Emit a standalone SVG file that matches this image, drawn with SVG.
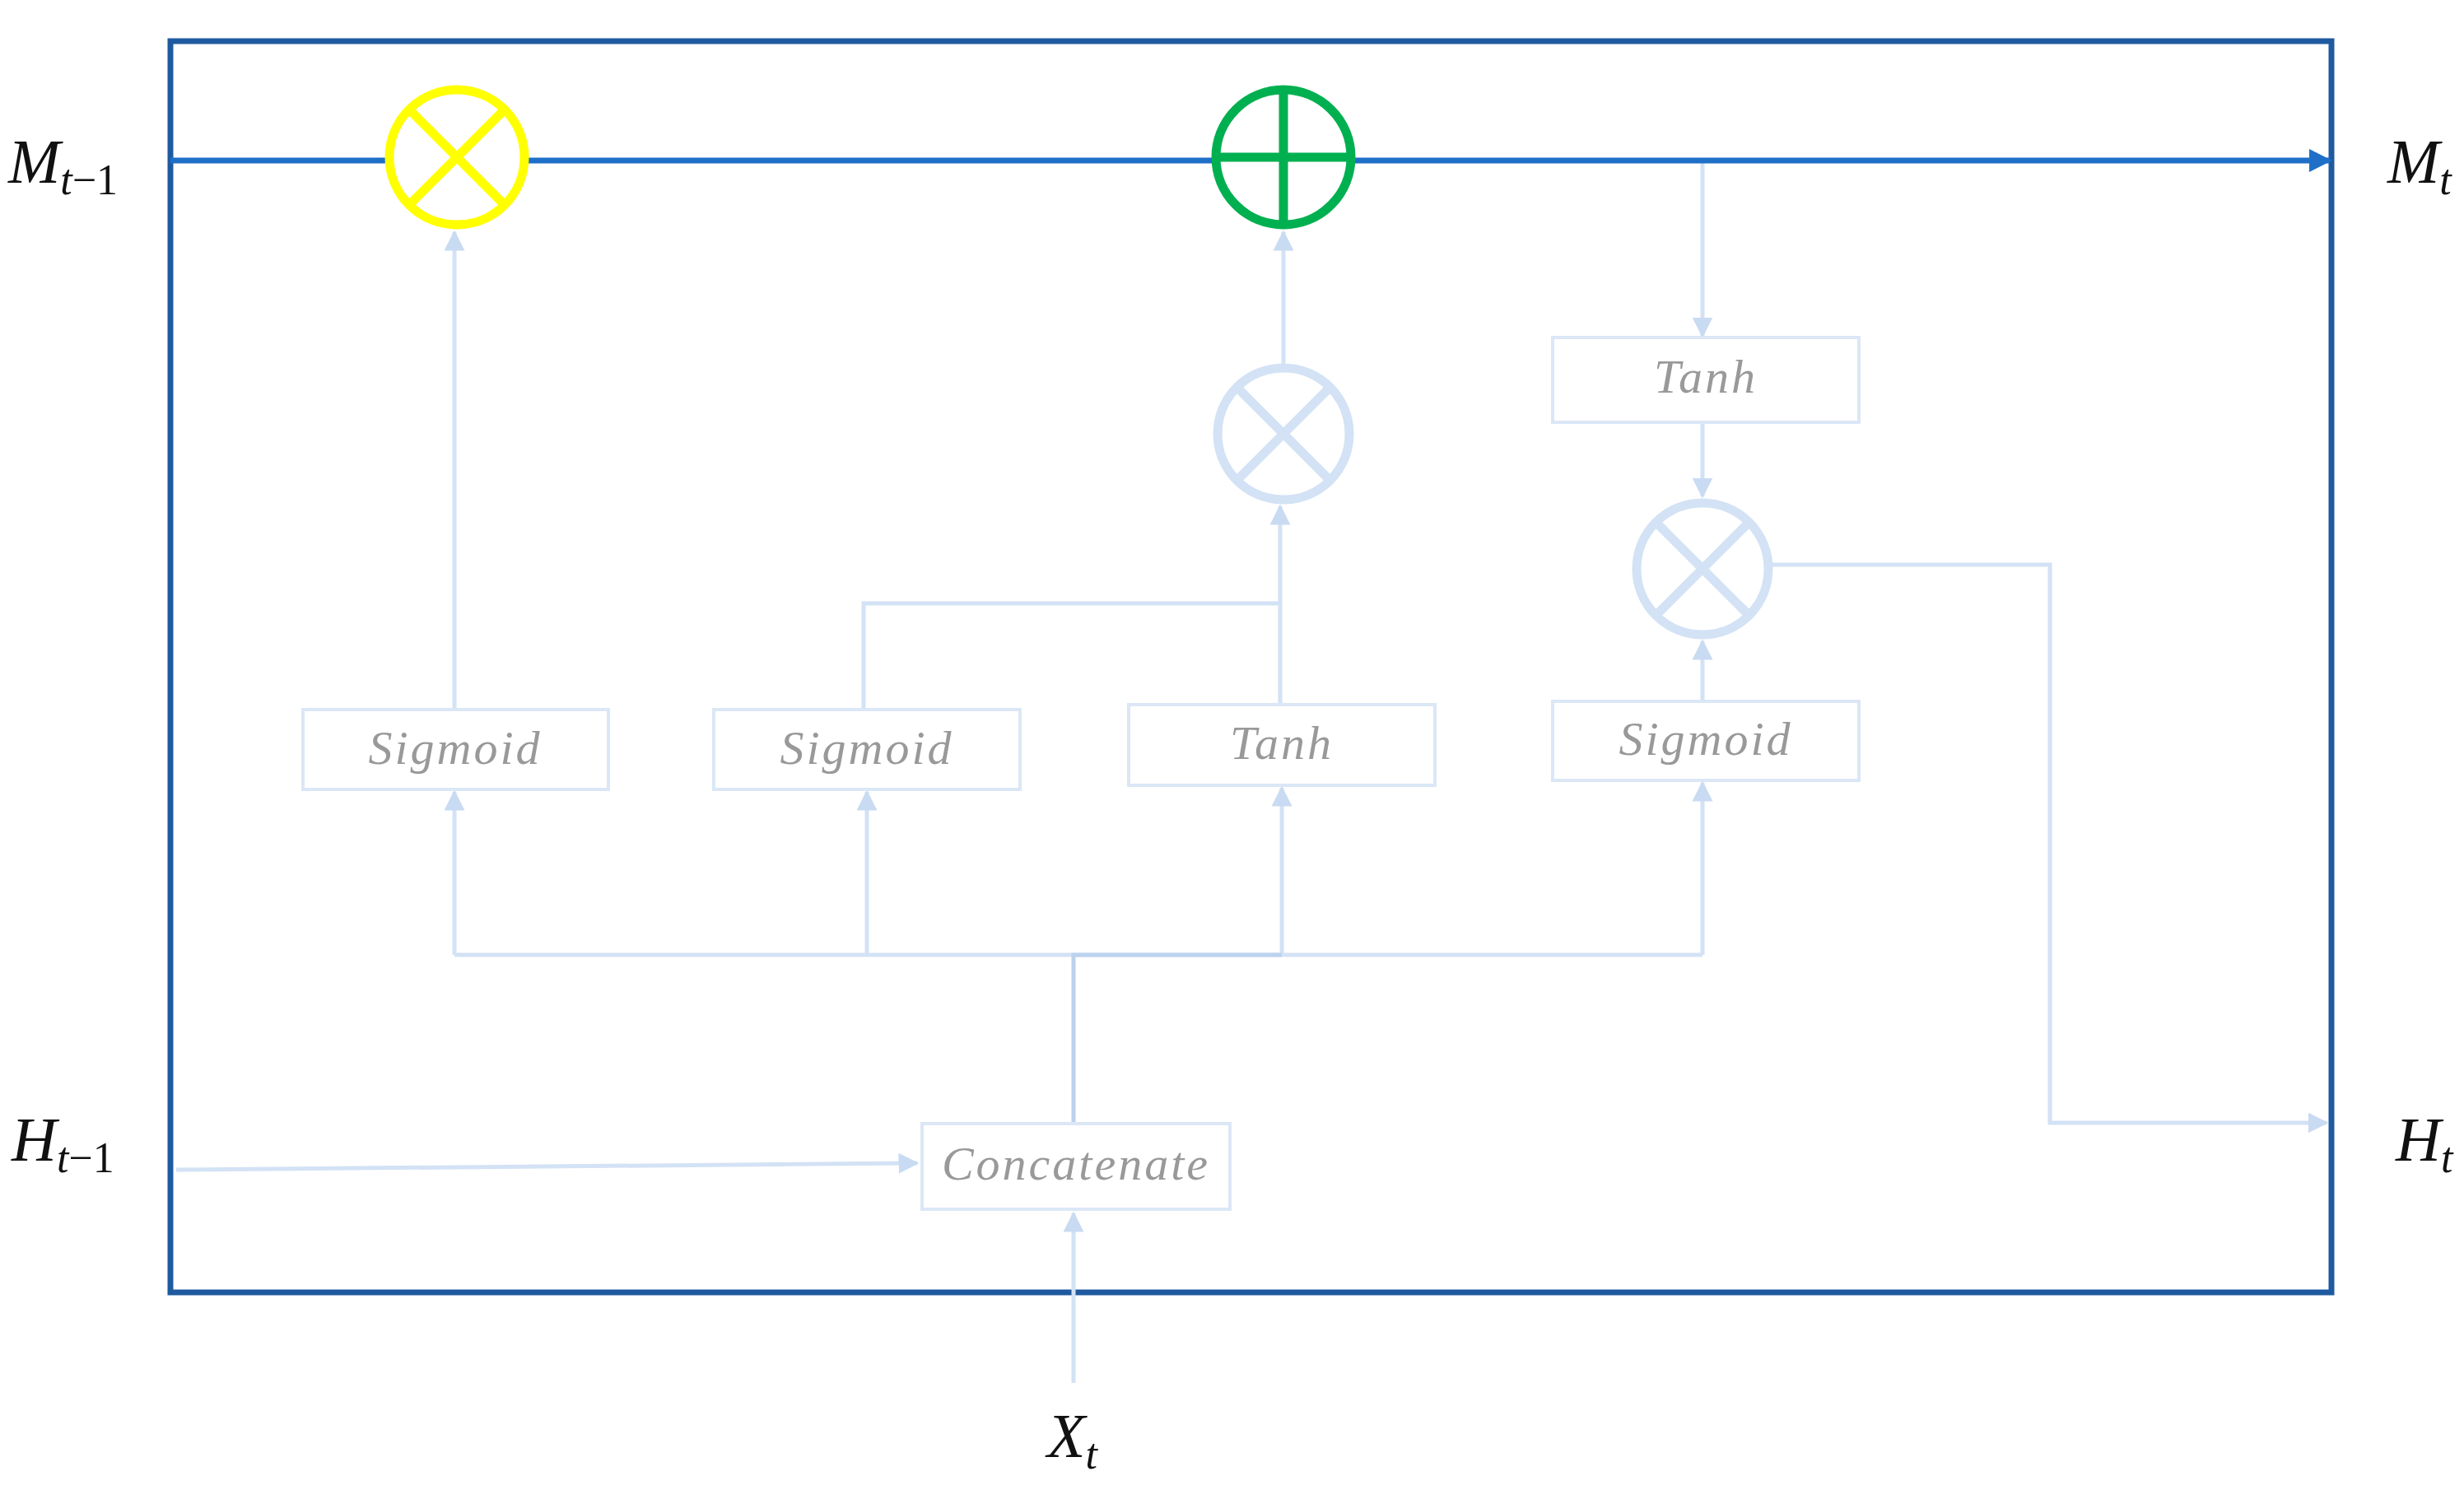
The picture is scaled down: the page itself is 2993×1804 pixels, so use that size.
<svg xmlns="http://www.w3.org/2000/svg" width="2993" height="1804" viewBox="0 0 2993 1804">
<style>
.lt{fill:none;stroke:#d3e2f5;stroke-width:5}
.bx{fill:#fff;stroke:#dbe7f6;stroke-width:4}
.bt{font-family:"Liberation Serif",serif;font-style:italic;font-size:58px;fill:#999;text-anchor:middle;letter-spacing:3px}
.lb{font-family:"Liberation Serif",serif;font-style:italic;font-size:76px;fill:#111}
.sb{font-size:52px}
.up{font-style:normal}
.mc{fill:#fff;stroke:#d3e2f5;stroke-width:11}
</style>
<defs>
<marker id="al" viewBox="0 0 10 10" refX="9" refY="5" markerWidth="5" markerHeight="5" orient="auto"><path d="M0,0L10,5L0,10z" fill="#c9dbf2"/></marker>
<marker id="ad" viewBox="0 0 10 10" refX="9" refY="5" markerWidth="4" markerHeight="4" orient="auto"><path d="M0,0L10,5L0,10z" fill="#1f6fc8"/></marker>
</defs>
<rect x="207" y="50" width="2625" height="1520" fill="none" stroke="#1f5aa0" stroke-width="7"/>
<g id="connectors">
<path class="lt" d="M552,862V282" marker-end="url(#al)"/>
<path class="lt" d="M1049,862V733H1555"/>
<path class="lt" d="M1555,856V615" marker-end="url(#al)"/>
<path class="lt" d="M1559,443V282" marker-end="url(#al)"/>
<path class="lt" d="M2068,198V408" marker-end="url(#al)"/>
<path class="lt" d="M2068,513V603" marker-end="url(#al)"/>
<path class="lt" d="M2068,852V779" marker-end="url(#al)"/>
<path class="lt" d="M2152,686H2490V1364H2826" marker-end="url(#al)"/>
<path class="lt" d="M552,1160H2068"/>
<path class="lt" d="M552,1160V962" marker-end="url(#al)"/>
<path class="lt" d="M1053,1160V962" marker-end="url(#al)"/>
<path class="lt" d="M1557,1160V957" marker-end="url(#al)"/>
<path class="lt" d="M2068,1160V951" marker-end="url(#al)"/>
<path d="M1304,1365V1160H1557" fill="none" stroke="#bcd2ee" stroke-width="5"/>
<path class="lt" d="M214,1421L1114,1413" marker-end="url(#al)"/>
<path class="lt" d="M1304,1680V1474" marker-end="url(#al)"/>
<path d="M207,195H2830" stroke="#1f6fc8" stroke-width="7" marker-end="url(#ad)"/>
</g>
<g id="forget-mult"><circle cx="555" cy="191" r="82" fill="#fff" stroke="#ffff00" stroke-width="11"/><path d="M497,133L613,249M613,133L497,249" stroke="#ffff00" stroke-width="11"/></g>
<g id="add"><circle cx="1559" cy="191" r="82" fill="#fff" stroke="#00b050" stroke-width="11"/><path d="M1477,191H1641M1559,109V273" stroke="#00b050" stroke-width="11"/></g>
<g id="mult1"><circle class="mc" cx="1559" cy="527" r="80"/><path d="M1502,470L1616,584M1616,470L1502,584" class="lt" style="stroke-width:11"/></g>
<g id="mult2"><circle class="mc" cx="2068" cy="691" r="80"/><path d="M2011,634L2125,748M2125,634L2011,748" class="lt" style="stroke-width:11"/></g>
<g id="sig1"><rect class="bx" x="368" y="862" width="371" height="97"/><text class="bt" x="553" y="928">Sigmoid</text></g>
<g id="sig2"><rect class="bx" x="867" y="862" width="372" height="97"/><text class="bt" x="1053" y="928">Sigmoid</text></g>
<g id="tanh1"><rect class="bx" x="1371" y="856" width="372" height="98"/><text class="bt" x="1557" y="922">Tanh</text></g>
<g id="sig3"><rect class="bx" x="1886" y="852" width="372" height="96"/><text class="bt" x="2072" y="917">Sigmoid</text></g>
<g id="tanh2"><rect class="bx" x="1886" y="410" width="372" height="103"/><text class="bt" x="2072" y="477">Tanh</text></g>
<g id="concat"><rect class="bx" x="1120" y="1365" width="374" height="104"/><text class="bt" x="1307" y="1433">Concatenate</text></g>
<g id="labels">
<text class="lb" x="10" y="222">M<tspan class="sb" dy="14">t<tspan class="up">−1</tspan></tspan></text>
<text class="lb" x="2900" y="222">M<tspan class="sb" dy="14">t</tspan></text>
<text class="lb" x="14" y="1410">H<tspan class="sb" dy="14">t<tspan class="up">−1</tspan></tspan></text>
<text class="lb" x="2910" y="1410">H<tspan class="sb" dy="14">t</tspan></text>
<text class="lb" x="1272" y="1770">X<tspan class="sb" dy="14">t</tspan></text>
</g>
</svg>
